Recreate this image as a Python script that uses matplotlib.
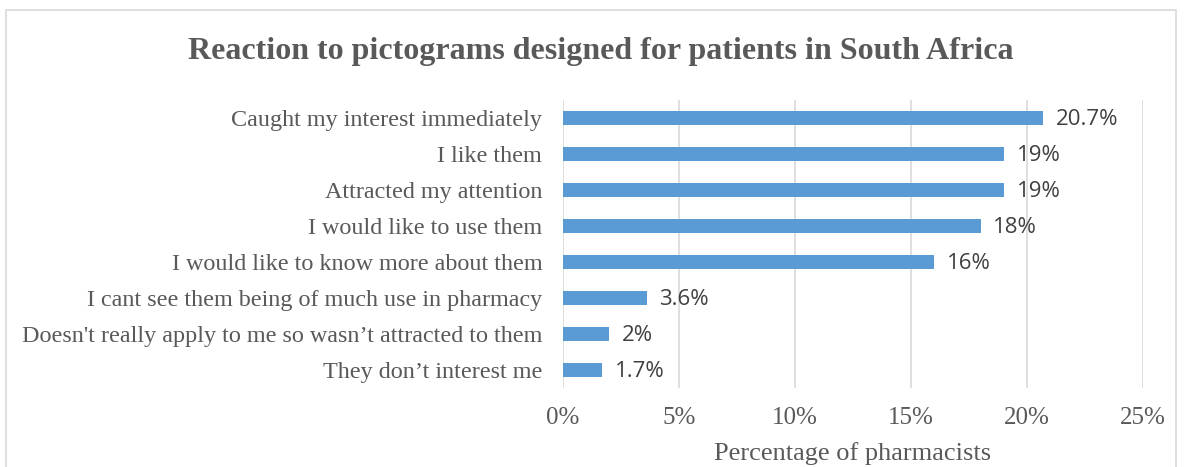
import matplotlib
matplotlib.use("Agg")
import matplotlib.pyplot as plt
from matplotlib.patches import Rectangle

categories = [
    "Caught my interest immediately",
    "I like them",
    "Attracted my attention",
    "I would like to use them",
    "I would like to know more about them",
    "I cant see them being of much use in pharmacy",
    "Doesn't really apply to me so wasn\u2019t attracted to them",
    "They don\u2019t interest me",
]
values = [20.7, 19, 19, 18, 16, 3.6, 2, 1.7]
value_labels = ["20.7%", "19%", "19%", "18%", "16%", "3.6%", "2%", "1.7%"]
xticks = [0, 5, 10, 15, 20, 25]

serif = "Liberation Serif"
grey = "#595959"

fig = plt.figure(figsize=(11.84, 4.67), dpi=100)
ax = fig.add_axes([0.4755, 0.1692, 0.4899, 0.6167])

pos = list(range(len(categories)))
ax.barh(pos, values, height=0.37, color="#5b9bd5", zorder=3)
for y, v, lab in zip(pos, values, value_labels):
    ax.text(v + 0.55, y + 0.05, lab, va="center", ha="left", fontsize=16,
            family="Open Sans", color="#404040")

ax.set_xlim(0, 25)
ax.set_ylim(len(categories) - 0.5, -0.5)
ax.set_xticks(xticks)
ax.set_xticklabels([f"{t}%" for t in xticks], family=serif, fontsize=18, color=grey)
ax.set_yticks(pos)
ax.set_yticklabels(categories, family=serif, fontsize=17.4, color=grey)
ax.tick_params(length=0)
ax.tick_params(axis="y", pad=15)
ax.tick_params(axis="x", pad=14)
ax.grid(axis="x", color="#d9d9d9", linewidth=1.2, zorder=0)
for s in ax.spines.values():
    s.set_visible(False)

ax.set_xlabel("Percentage of pharmacists", family=serif, fontsize=19,
              color=grey, labelpad=9)
fig.text(0.507, 0.89, "Reaction to pictograms designed for patients in South Africa",
         ha="center", va="center", family=serif, fontsize=23, fontweight="bold",
         color=grey)

# light frame around the chart area
fig.patches.append(Rectangle((6 / 1184, -0.05), 1170 / 1184, 1.05 - 10 / 467,
                             transform=fig.transFigure, fill=False,
                             edgecolor="#d9d9d9", linewidth=1.2))

fig.savefig("out.png", dpi=100)
